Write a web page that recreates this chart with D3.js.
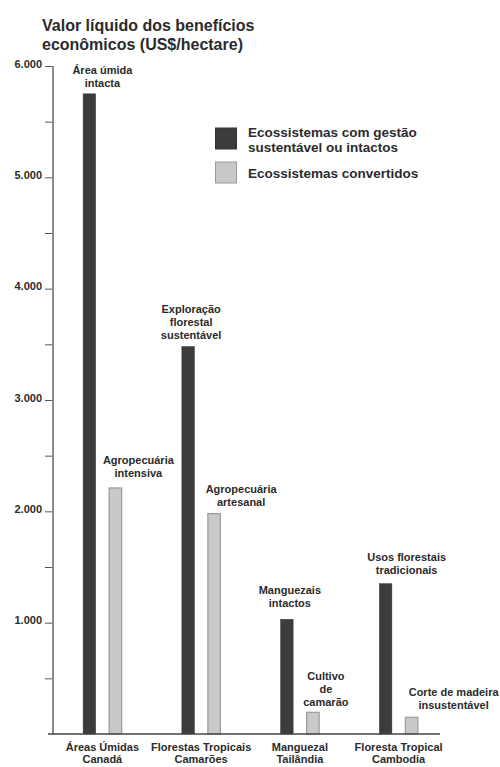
<!DOCTYPE html>
<html><head><meta charset="utf-8">
<script src="https://cdn.jsdelivr.net/npm/d3@7"></script>
<style>
html,body{margin:0;padding:0;background:#fff;}
svg{display:block;font-family:"Liberation Sans",Arial,Helvetica,sans-serif;font-weight:bold;}
</style></head>
<body>
<svg id="chart" width="500" height="767"></svg>
<script>
// ---- data ----
const categories = ["Áreas Úmidas|Canadá", "Florestas Tropicais|Camarões", "Manguezal|Tailândia", "Floresta Tropical|Cambodia"];
const series = ["Ecossistemas com gestão|sustentável ou intactos", "Ecossistemas convertidos"];
const sustainableValues = [5750, 3480, 1030, 1350];
const convertedValues = [2210, 1980, 195, 150];
const sustainableLabels = ["Área úmida|intacta", "Exploração|florestal|sustentável", "Manguezais|intactos", "Usos florestais|tradicionais"];
const convertedLabels = ["Agropecuária|intensiva", "Agropecuária|artesanal", "Cultivo|de|camarão", "Corte de madeira|insustentável"];
const yTicks = [500, 1000, 1500, 2000, 2500, 3000, 3500, 4000, 4500, 5000, 5500, 6000];
const titleLines = ["Valor líquido dos benefícios", "econômicos (US$/hectare)"];

// ---- layout (not data) ----
const colors = ["#3c3c3c", "#c9c9c9"];
const strokes = ["#333", "#9a9a9a"];
// label offsets: [dx from bar centre, gap above bar]
const labelLayout = [
  [[13, 7], [3, 8], [3, 12], [21, 10]],
  [[23, 11], [27, 8], [13, 6], [42, 8]]
];

const svg = d3.select("#chart");
const y = d3.scaleLinear().domain([0, 6000]).range([734, 66]);
const x0 = d3.scaleBand().domain(categories).range([53, 448]);
const x1 = d3.scalePoint().domain(series).range([-13, 13]);
const barW = 12.5;
const textColor = "#2b2b2b";

// title
svg.append("g").selectAll("text").data(titleLines).join("text")
  .attr("x", 42).attr("y", (d, i) => 31 + i * 19)
  .attr("font-size", 16).attr("fill", textColor).text(d => d);

// y axis
const loc = d3.formatLocale({decimal: ",", thousands: ".", grouping: [3], currency: ["", ""]});
const fmt = loc.format(",");
const yAxis = d3.axisLeft(y).tickValues(yTicks).tickSize(8).tickPadding(3)
  .tickFormat(d => d % 1000 === 0 ? fmt(d) : "");
const gy = svg.append("g").attr("transform", "translate(53,0)").call(yAxis);
gy.select(".domain").remove();
gy.selectAll(".tick line").attr("stroke", "#555").attr("stroke-width", 1);
gy.selectAll(".tick text").attr("font-size", 11).attr("font-family", "Liberation Sans, Arial, sans-serif")
  .attr("font-weight", "bold").attr("fill", textColor).attr("dy", "0.1em");
svg.append("line").attr("x1", 53).attr("x2", 53).attr("y1", y(6000)).attr("y2", y(0))
  .attr("stroke", "#8c8c8c").attr("stroke-width", 2);

// bars
const allValues = [sustainableValues, convertedValues];
const allLabels = [sustainableLabels, convertedLabels];
series.forEach((s, si) => {
  const g = svg.append("g");
  const rows = categories.map((c, ci) => ({c, ci, v: allValues[si][ci], label: allLabels[si][ci]}));
  g.selectAll("rect").data(rows).join("rect")
    .attr("x", d => x0(d.c) + x0.bandwidth() / 2 + x1(s) - barW / 2)
    .attr("width", barW)
    .attr("y", d => y(d.v))
    .attr("height", d => y(0) - y(d.v))
    .attr("fill", colors[si])
    .attr("stroke", strokes[si]).attr("stroke-width", si === 1 ? 1.2 : 0.5);
  rows.forEach(d => {
    const lines = d.label.split("|");
    const [dx, gap] = labelLayout[si][d.ci];
    const cx = x0(d.c) + x0.bandwidth() / 2 + x1(s) + dx;
    const base = y(d.v) - gap;
    g.append("g").selectAll("text").data(lines).join("text")
      .attr("x", cx).attr("y", (t, i) => base - (lines.length - 1 - i) * 13)
      .attr("text-anchor", "middle").attr("font-size", 11).attr("fill", textColor).text(t => t);
  });
});

// x baseline
svg.append("line").attr("x1", 48).attr("x2", 440).attr("y1", y(0)).attr("y2", y(0))
  .attr("stroke", "#444").attr("stroke-width", 1.5);

// category labels
categories.forEach(c => {
  const lines = c.split("|");
  svg.append("g").selectAll("text").data(lines).join("text")
    .attr("x", x0(c) + x0.bandwidth() / 2).attr("y", (t, i) => 751 + i * 12)
    .attr("text-anchor", "middle").attr("font-size", 11).attr("fill", textColor).text(t => t);
});

// legend
const leg = svg.append("g");
const legY = [128, 162];
series.forEach((s, si) => {
  leg.append("rect").attr("x", 215.5).attr("y", legY[si]).attr("width", 21).attr("height", 21)
    .attr("fill", colors[si]).attr("stroke", strokes[si]).attr("stroke-width", 1);
  const lines = s.split("|");
  leg.append("g").selectAll("text").data(lines).join("text")
    .attr("x", 248).attr("y", (t, i) => (si === 0 ? 137 : 178) + i * 15)
    .attr("font-size", 13.5).attr("fill", textColor).text(t => t);
});
</script>
</body></html>
